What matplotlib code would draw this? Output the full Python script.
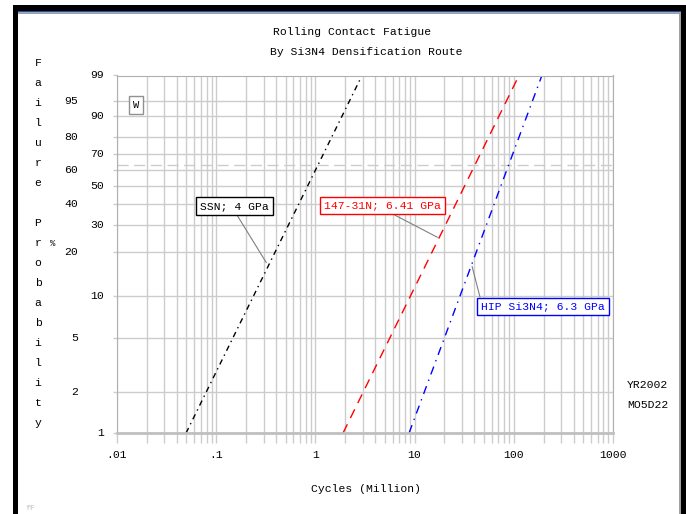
import numpy as np
import matplotlib.pyplot as plt
from matplotlib.patches import Rectangle

# Weibull fits: cycles (million) at 1% and 99% failure
series = ['SSN; 4 GPa', '147-31N; 6.41 GPa', 'HIP Si3N4; 6.3 GPa']
cycles_at_1 = [0.0497, 1.90, 8.8]
cycles_at_99 = [2.95, 112.7, 192.0]
prob_ends = [1, 99]
# point on each line where the label leader touches
leader_x = [0.32, 17, 38]
leader_p = [17, 25, 16]

prob_right = [99, 90, 70, 50, 30, 10, 1]
prob_left = [95, 80, 60, 40, 20, 5, 2]
xticks = [0.01, 0.1, 1, 10, 100, 1000]
xtick_labels = ['.01', '.1', '1', '10', '100', '1000']

colors = ['black', 'red', 'blue']
styles = [(0, (4, 3, 1, 3)), (0, (7, 5)), (0, (6, 4, 1, 4))]

W, H = 686, 514
FONT = 'Liberation Mono'
FS = 8.2
plt.rcParams['font.family'] = FONT


def fwd(p):
    p = np.clip(np.asarray(p, dtype=float), 1e-6, 100 - 1e-6)
    return np.log(-np.log(1 - p / 100.0))


def inv(w):
    return 100.0 * (1 - np.exp(-np.exp(w)))


fig = plt.figure(figsize=(W / 100, H / 100), dpi=100)
ax = fig.add_axes([117 / W, 1 - 433 / H, (613 - 117) / W, (433 - 75.5) / H])
ax.set_xscale('log')
ax.set_yscale('function', functions=(fwd, inv))
ax.set_xlim(0.01, 1000)
ax.set_ylim(1, 99)

grid_c = '#cccccc'
ax.set_yticks(sorted(prob_left + prob_right))
ax.set_yticklabels([])
ax.set_xticks(xticks)
ax.set_xticklabels([])
ax.xaxis.set_minor_locator(plt.matplotlib.ticker.LogLocator(subs=np.arange(2, 10)))
ax.xaxis.set_minor_formatter(plt.NullFormatter())
ax.yaxis.set_minor_locator(plt.NullLocator())
ax.tick_params(axis='y', length=3, color=grid_c, width=1)
ax.tick_params(axis='x', which='both', length=7, color=grid_c, width=1)
ax.grid(True, which='both', color=grid_c, lw=1)
for s in ax.spines.values():
    s.set_color('#b0b0b0')
ax.spines['bottom'].set_linewidth(2)
ax.spines['bottom'].set_color('#c0c0c0')

# 63.2% characteristic life line
ax.axhline(63.2, color='#cccccc', lw=1, ls=(0, (8, 4)))

for i in range(len(series)):
    ax.plot([cycles_at_1[i], cycles_at_99[i]], prob_ends, color=colors[i],
            ls=styles[i], lw=1)

# y labels in two columns
ylab = ax.get_yaxis_transform()
for v in prob_right:
    ax.text(-13 / 496, v, str(v), transform=ylab, ha='right', va='center', fontsize=FS)
for v in prob_left:
    ax.text(-39 / 496, v, str(v), transform=ylab, ha='right', va='center', fontsize=FS)

xlab = ax.get_xaxis_transform()
for v, t in zip(xticks, xtick_labels):
    ax.text(v, -22 / 357.5, t, transform=xlab, ha='center', va='center', fontsize=FS)

# annotations
box_pos = [(234.5, 206), (382.5, 205.5), (543, 306.5)]
relpos = [(0.5, 0.0), (0.53, 0.0), (0.0, 1.0)]
for i in range(len(series)):
    ax.annotate(series[i], xy=(leader_x[i], leader_p[i]),
                xytext=(box_pos[i][0], H - box_pos[i][1]), textcoords='figure pixels',
                ha='center', va='center', fontsize=FS, color=colors[i],
                bbox=dict(boxstyle='square,pad=0.35', fc='white', ec=colors[i], lw=1),
                arrowprops=dict(arrowstyle='-', color='#808080', lw=0.8,
                                relpos=relpos[i], shrinkA=0, shrinkB=0))

fig.text(136 / W, 1 - 105 / H, 'W', ha='center', va='center', fontsize=7.5,
         bbox=dict(boxstyle='square,pad=0.35', fc='white', ec='#909090', lw=1))

# titles and axis text
fig.text(352 / W, 1 - 32 / H, 'Rolling Contact Fatigue', ha='center', va='center', fontsize=FS)
fig.text(366 / W, 1 - 52 / H, 'By Si3N4 Densification Route', ha='center', va='center', fontsize=FS)
fig.text(366 / W, 1 - 489 / H, 'Cycles (Million)', ha='center', va='center', fontsize=FS)

word = 'Failure Probability'
for k, ch in enumerate(word):
    if ch != ' ':
        fig.text(38 / W, 1 - (63 + 20 * k) / H, ch, ha='center', va='center', fontsize=FS)
fig.text(53 / W, 1 - 243 / H, '%', ha='center', va='center', fontsize=6.5)

fig.text(627 / W, 1 - 385 / H, 'YR2002', ha='left', va='center', fontsize=FS)
fig.text(627 / W, 1 - 405 / H, 'MO5D22', ha='left', va='center', fontsize=FS)
fig.text(25 / W, 1 - 508 / H, 'fF', ha='left', va='center', fontsize=6, color='#c0c0c0')


# window frame
def rect(x, y, w, h, c):
    fig.add_artist(Rectangle((x / W, 1 - (y + h) / H), w / W, h / H,
                             transform=fig.transFigure, fc=c, ec='none', lw=0))


rect(13, 5, 673, 6, 'black')
rect(13, 5, 5, 509, 'black')
rect(681, 5, 5, 509, 'black')
rect(18, 11, 663, 1, '#2a4a9a')
rect(18, 12, 663, 1, '#8aa8d8')
rect(18, 13, 663, 1, '#a0a0a0')
rect(679, 13, 1.5, 501, '#a0a0a0')

fig.savefig('out.png', dpi=100)
